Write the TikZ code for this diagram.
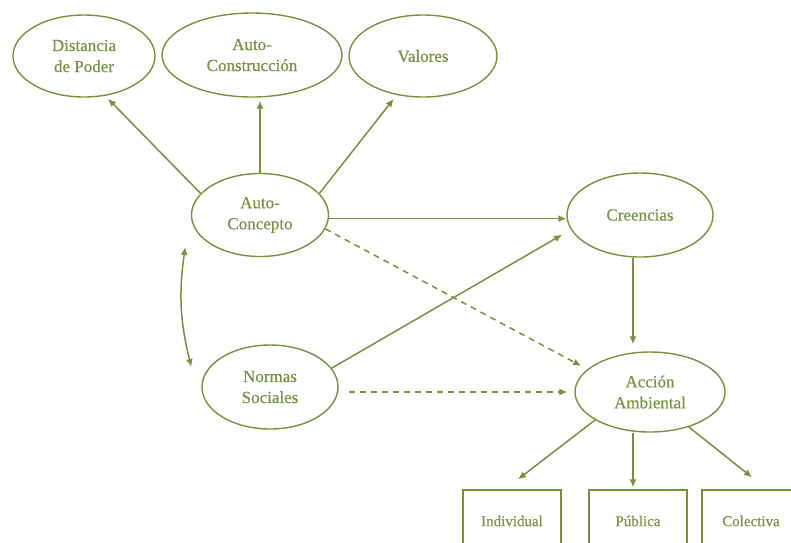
\documentclass[tikz,border=0pt]{standalone}
\usepackage{fontspec}
\setmainfont{Liberation Serif}
\newfontfamily\labelfont{Liberation Serif}[BoldFont=Liberation Serif, BoldFeatures={FakeBold=0.5}]
\usetikzlibrary{shapes.geometric,arrows.meta}
\definecolor{olive}{RGB}{118,146,60}
\definecolor{olivetext}{RGB}{118,148,66}
\tikzset{
  concept/.style={ellipse, draw=olive, line width=1.4pt, inner sep=0pt,
    text=olivetext, align=center, font=\labelfont\bfseries\fontsize{17}{21}\selectfont},
  actionbox/.style={rectangle, draw=olive, line width=1.4pt, inner sep=0pt,
    minimum width=98pt, minimum height=62pt, text=olivetext,
    font=\labelfont\bfseries\fontsize{15}{18}\selectfont},
  link/.style={draw=olive, line width=1.5pt, -{Latex[length=8pt,width=7pt]}},
  dashlink/.style={link, dash pattern=on 6pt off 5pt},
  bothlink/.style={draw=olive, line width=1.5pt,
    {Latex[length=8pt,width=7pt]}-{Latex[length=8pt,width=7pt]}}
}
\begin{document}
\begin{tikzpicture}[x=1pt,y=-1pt]
  \useasboundingbox (0,0) rectangle (791,542);
  \clip (0,0) rectangle (791,542);

  % cultural dimensions
  \node[concept, minimum width=142pt, minimum height=82pt] (dp) at (84,56) {Distancia\\de Poder};
  \node[concept, minimum width=180pt, minimum height=84pt] (acon) at (252,55) {Auto-\\Construcción};
  \node[concept, minimum width=148pt, minimum height=82pt] (val) at (423,56) {Valores};

  % predictors
  \node[concept, minimum width=137pt, minimum height=83pt] (ac) at (260,215) {Auto-\\Concepto};
  \node[concept, minimum width=136pt, minimum height=84pt] (ns) at (270,387) {Normas\\Sociales};

  % mediator and outcome
  \node[concept, minimum width=146pt, minimum height=84pt] (cr) at (640,215) {Creencias};
  \node[concept, minimum width=150pt, minimum height=80pt] (acc) at (650,392) {Acción\\Ambiental};

  % kinds of action
  \node[actionbox] (ind) at (512,521) {Individual};
  \node[actionbox] (pub) at (638,521) {Pública};
  \node[actionbox] (col) at (751,521) {Colectiva};

  % self-concept to cultural dimensions
  \draw[link, shorten >=4pt] (ac.160) -- (dp.-62);
  \draw[link, shorten >=3pt] (ac.north) -- (ac.north |- acon.south);
  \draw[link, shorten >=5pt] (ac.20) -- (val.-124);

  % paths to beliefs and action
  \draw[link] (ac.-3) -- (ac.-3 -| cr.west);
  \draw[dashlink, shorten >=7pt] (ac.-12) -- (acc.160);
  \draw[link, shorten >=10pt] (ns.17) -- (cr.192);
  \coordinate (nsout) at ([xshift=10pt,yshift=-5pt]ns.east);
  \draw[dashlink, shorten >=7pt] (nsout) -- (nsout -| acc.west);
  \coordinate (crout) at ([xshift=-7pt]cr.south);
  \draw[link, shorten >=7pt] (crout) -- (crout |- acc.north);

  % two-way link between the predictors
  \coordinate (actip) at ([xshift=-5.5pt,yshift=-32pt]ac.west);
  \coordinate (nstip) at ([xshift=-10pt,yshift=20pt]ns.west);
  \draw[bothlink] (actip) to[bend right=11] (nstip);

  % action to its kinds
  \coordinate (indtip) at ([xshift=6pt,yshift=10pt]ind.north);
  \coordinate (pubtip) at ([xshift=-5pt,yshift=2pt]pub.north);
  \coordinate (coltip) at ([xshift=1pt,yshift=12pt]col.north);
  \draw[link] (acc.-153) -- (indtip);
  \draw[link] (acc.south -| pubtip) -- (pubtip);
  \draw[link] (acc.-42) -- (coltip);
\end{tikzpicture}
\end{document}
